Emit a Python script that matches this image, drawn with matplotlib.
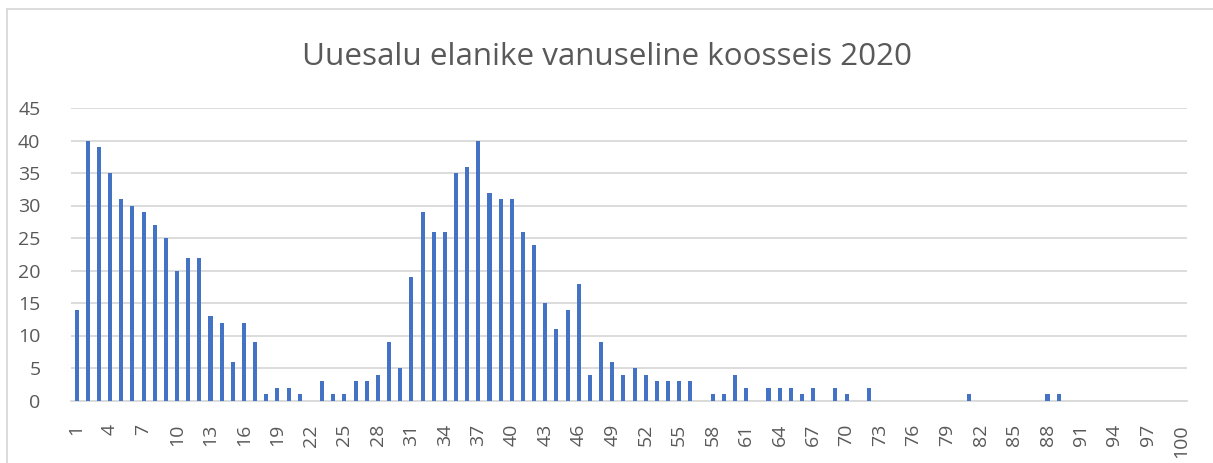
import matplotlib
matplotlib.use("Agg")
import matplotlib.pyplot as plt
from matplotlib.lines import Line2D

ages = list(range(1, 101))
counts = [
    14, 40, 39, 35, 31, 30, 29, 27, 25, 20,
    22, 22, 13, 12, 6, 12, 9, 1, 2, 2,
    1, 0, 3, 1, 1, 3, 3, 4, 9, 5,
    19, 29, 26, 26, 35, 36, 40, 32, 31, 31,
    26, 24, 15, 11, 14, 18, 4, 9, 6, 4,
    5, 4, 3, 3, 3, 3, 0, 1, 1, 4,
    2, 0, 2, 2, 2, 1, 2, 0, 2, 1,
    0, 2, 0, 0, 0, 0, 0, 0, 0, 0,
    1, 0, 0, 0, 0, 0, 0, 1, 1, 0,
    0, 0, 0, 0, 0, 0, 0, 0, 0, 0,
]
tick_labels = [str(a) for a in range(1, 101, 3)]
y_ticks = list(range(0, 50, 5))
title = "Uuesalu elanike vanuseline koosseis 2020"

plt.rcParams['font.family'] = ['Open Sans', 'DejaVu Sans']
W, H = 1213, 463
fig = plt.figure(figsize=(W / 100, H / 100), dpi=100)
fig.patch.set_facecolor('white')

left, right, top, bottom = 71, 1187, 108, 400.5
ax = fig.add_axes([left / W, (H - bottom) / H, (right - left) / W, (bottom - top) / H])

text_color = '#595959'
grid_color = '#D9D9D9'

ax.bar(ages, counts, width=0.36, color='#4472C4', zorder=3)
ax.set_xlim(0.5, 100.5)
ax.set_ylim(0, 45)
ax.set_yticks(y_ticks)
ax.set_yticklabels([str(v) for v in y_ticks])
ax.set_xticks(list(range(1, 101, 3)))
ax.set_xticklabels(tick_labels, rotation=90)
ax.yaxis.grid(True, color=grid_color, linewidth=1.3, zorder=0)
ax.set_axisbelow(True)
for s in ['top', 'right', 'left']:
    ax.spines[s].set_visible(False)
ax.spines['bottom'].set_color(grid_color)
ax.spines['bottom'].set_linewidth(1.3)
ax.tick_params(axis='both', length=0, labelsize=14, colors=text_color)
ax.tick_params(axis='y', pad=22)
ax.tick_params(axis='x', pad=17)

fig.text(606.5 / W, (H - 65) / H, title, ha='center', va='baseline',
         fontsize=22.6, color=text_color)

# chart area border (left and top edges visible)
fig.add_artist(Line2D([6.5 / W, 6.5 / W], [0, (H - 9) / H], color='#D9D9D9', linewidth=1.3, transform=fig.transFigure))
fig.add_artist(Line2D([6.5 / W, 1], [(H - 9) / H, (H - 9) / H], color='#D9D9D9', linewidth=1.3, transform=fig.transFigure))

fig.savefig('out.png', dpi=100)
